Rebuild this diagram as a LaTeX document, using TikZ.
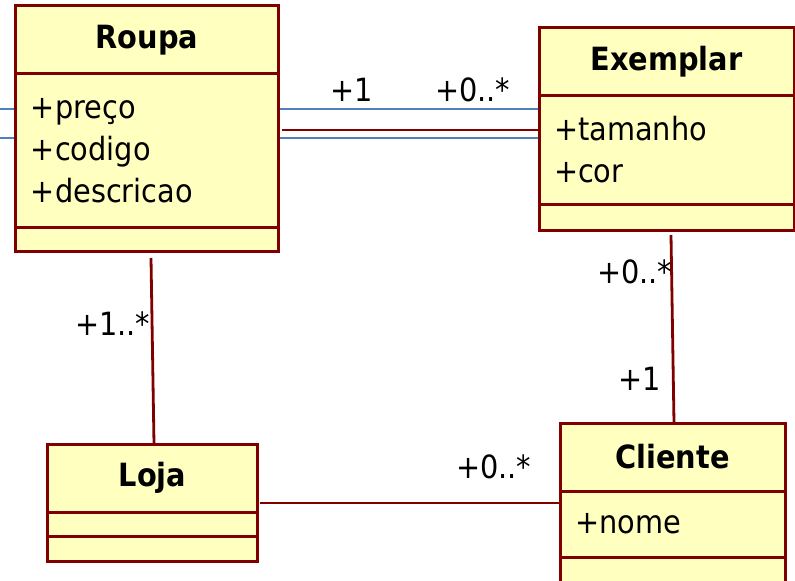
\documentclass[tikz,border=0pt]{standalone}
\usepackage{fontspec}
\setmainfont{DejaVu Sans}[FakeStretch = 0.9]
\usetikzlibrary{positioning}
\usetikzlibrary{backgrounds}

\definecolor{umlred}{HTML}{800000}
\definecolor{umlfill}{HTML}{FFFFC0}
\definecolor{selblue}{HTML}{4F81BD}
\newcommand{\umlsize}{\fontsize{32bp}{42bp}\selectfont}

\tikzset{
	compartment/.style = {draw = umlred, fill = umlfill, line width = 3bp, rectangle, inner sep = 0pt, outer sep = 0pt},
	classname/.style = {compartment, font = \umlsize\bfseries, minimum height = 68bp},
	classattr/.style = {compartment, align = left, inner xsep = 15bp},
	assoc/.style = {umlred, line width = 2.8bp},
	selline/.style = {selblue, line width = 1.7bp},
	mult/.style = {inner sep = 0pt, anchor = base west}
}

\begin{document}
\begin{tikzpicture}[x = 1bp, y = -1bp, font = \umlsize]
	\path[use as bounding box] (0, 0) rectangle (795, 581);
	% Roupa
	\node[classname, minimum width = 262bp] (roupa) at (147, 40) {Roupa};
	\node[classattr, minimum width = 262bp, text width = 232bp, minimum height = 153bp, below = 0pt of roupa] (roupa attr) {+preço\\+codigo\\+descricao};
	\node[compartment, minimum width = 262bp, minimum height = 24bp, below = 0pt of roupa attr] (roupa op) {};
	% Exemplar
	\node[classname, minimum width = 255bp] (exemplar) at (666.5, 62) {Exemplar};
	\node[classattr, minimum width = 255bp, text width = 225bp, minimum height = 108bp, below = 0pt of exemplar] (exemplar attr) {+tamanho\\+cor};
	\node[compartment, minimum width = 255bp, minimum height = 26bp, below = 0pt of exemplar attr] (exemplar op) {};
	% Loja
	\node[classname, minimum width = 209bp] (loja) at (152.5, 478) {Loja};
	\node[compartment, minimum width = 209bp, minimum height = 24bp, below = 0pt of loja] (loja attr) {};
	\node[compartment, minimum width = 209bp, minimum height = 25bp, below = 0pt of loja attr] (loja op) {};
	% Cliente
	\node[classname, minimum width = 225bp] (cliente) at (672.5, 457) {Cliente};
	\node[classattr, minimum width = 225bp, text width = 195bp, minimum height = 66bp, below = 0pt of cliente] (cliente attr) {+nome};
	\node[compartment, minimum width = 225bp, minimum height = 45bp, below = 0pt of cliente attr] (cliente op) {};

	\begin{scope}[on background layer]
		\coordinate (sel top) at (0, 109);
		\coordinate (sel bottom) at (0, 138);
		\draw[selline] (sel top) -- (sel top -| exemplar attr.west);
		\draw[selline] (sel bottom) -- (sel bottom -| exemplar attr.west);
	\end{scope}

	% associations
	\coordinate (roupa end) at ([yshift = -56bp]roupa attr.north east);
	\draw[assoc, shorten <= 4bp] (roupa end) -- (roupa end -| exemplar attr.west);
	\draw[assoc] ([xshift = 4bp, yshift = -7bp]roupa op.south) -- ([xshift = 1.5bp]loja.north);
	\draw[assoc] ([xshift = 4.5bp, yshift = -5bp]exemplar op.south) -- ([xshift = 1.5bp]cliente.north);
	\coordinate (loja end) at ([yshift = -59bp]loja.north east);
	\draw[assoc, shorten <= 3bp] (loja end) -- (loja end -| cliente attr.west);

	% multiplicities
	\node[mult] (mult roupa) at (330, 102) {+1};
	\node[mult] (mult exemplar) at (435, 102) {+0..*};
	\node[mult] (mult exemplar down) at (597, 283) {+0..*};
	\node[mult] (mult cliente up) at (618, 390) {+1};
	\node[mult] (mult loja) at (75, 335) {+1..*};
	\node[mult] (mult cliente left) at (456, 478) {+0..*};
\end{tikzpicture}
\end{document}
